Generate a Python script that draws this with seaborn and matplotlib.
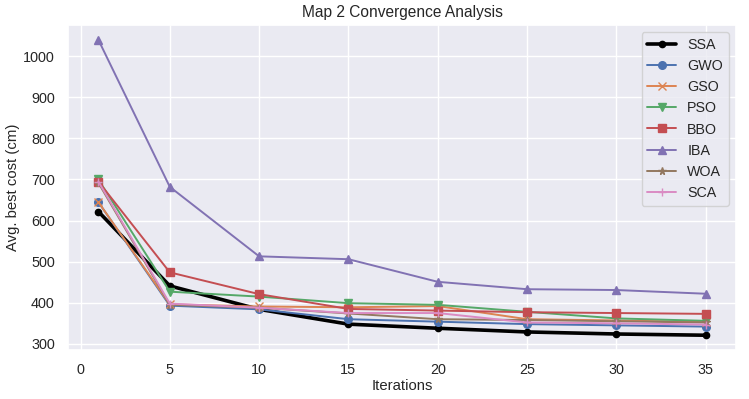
import pandas as pd
import numpy as np
import matplotlib
matplotlib.use('Agg')
import matplotlib.pyplot as plt
import seaborn as sns

iterations = [1, 5, 10, 15, 20, 25, 30, 35]

ssa = [622, 441, 384, 348, 338, 329, 324, 321]
gwo = [645, 393, 384, 360, 354, 348, 345, 342]
gso = [645, 396, 391, 389, 392, 360, 357, 353]
pso = [700, 427, 415, 399, 395, 378, 362, 356]
bbo = [695, 474, 421, 385, 381, 377, 375, 373]
iba = [1040, 682, 513, 506, 451, 433, 431, 422]
woa = [692, 395, 388, 374, 360, 358, 355, 352]
sca = [695, 398, 388, 375, 375, 352, 350, 347]

series = {'SSA': ssa, 'GWO': gwo, 'GSO': gso, 'PSO': pso,
          'BBO': bbo, 'IBA': iba, 'WOA': woa, 'SCA': sca}
markers = ['o', 'o', 'x', 'v', 's', '^', '*', '+']

sns.set_theme(style='darkgrid')
plt.rcParams['font.family'] = ['Liberation Sans', 'DejaVu Sans']
pal = sns.color_palette('deep')
colors = ['black'] + list(pal[:7])

fig, ax = plt.subplots(figsize=(7.49, 3.99), dpi=100)
fig.subplots_adjust(left=0.0908, right=0.9826, bottom=0.1228, top=0.9373)

for (name, vals), m, c in zip(series.items(), markers, colors):
    df = pd.DataFrame({'Iterations': iterations, 'cost': vals})
    lw = 2.6 if name == 'SSA' else 1.4
    ms = 4.5 if name == 'SSA' else 5.5
    sns.lineplot(data=df, x='Iterations', y='cost', ax=ax, color=c,
                 marker=m, markersize=ms, linewidth=lw, label=name,
                 markeredgecolor=c, markeredgewidth=1)

ax.set_title('Map 2 Convergence Analysis', fontsize=11.2)
ax.set_xlabel('Iterations', fontsize=10.7, labelpad=1)
ax.set_ylabel('Avg. best cost (cm)', fontsize=10.7, labelpad=2)
ax.set_xticks([0, 5, 10, 15, 20, 25, 30, 35])
ax.set_yticks(range(300, 1001, 100))
ax.tick_params(labelsize=10.4)
ax.legend(loc='upper right', fontsize=10.3)

plt.savefig('out.png', dpi=100)
